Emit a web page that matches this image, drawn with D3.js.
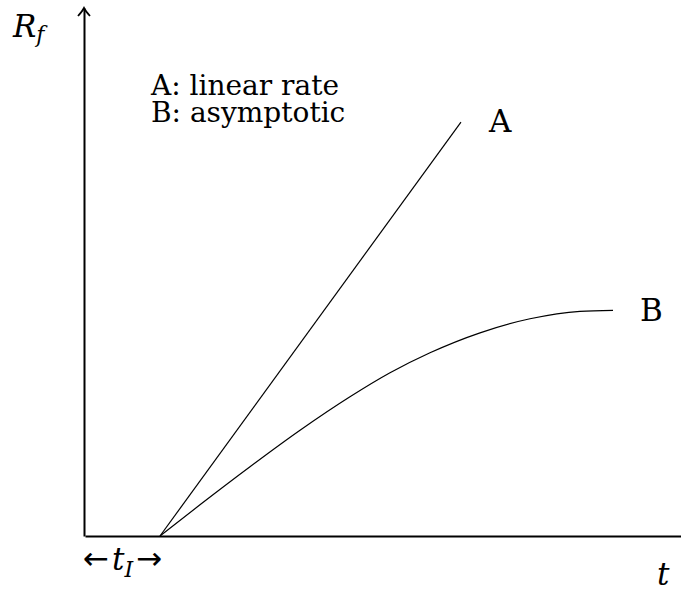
<!DOCTYPE html>
<html>
<head>
<meta charset="utf-8">
<script src="https://cdn.jsdelivr.net/npm/d3@7"></script>
<style>
  html, body { margin: 0; padding: 0; background: #fff; }
</style>
</head>
<body>
<div id="chart"></div>
<script>
// curve A: linear growth after the induction time
const lineA_t = [1.0, 5.013];
const lineA_R = [0, 7.84];

// curve B: levels off towards an asymptote
const lineB_t = [1.0, 1.533, 2.2, 2.867, 3.533, 4.067, 4.6, 5.267, 5.933, 6.6, 7.04];
const lineB_R = [0, 0.591, 1.311, 2.002, 2.636, 3.091, 3.470, 3.848, 4.114, 4.256, 4.275];

const legendLines = ["A: linear rate", "B: asymptotic"];
const curveNames = ["A", "B"];
const inductionTime = 1.0;

const width = 681;
const height = 591;
const serif = 'DejaVu Serif';

const xScale = d3.scaleLinear()
                 .domain([0, 8])
                 .range([85, 685]);

const yScale = d3.scaleLinear()
                 .domain([0, 10])
                 .range([536, 8]);

const svg = d3.select('#chart')
              .append('svg')
              .attr('width', width)
              .attr('height', height);

// axes without ticks, just the lines
const xAxis = d3.axisBottom(xScale).tickValues([]).tickSizeOuter(0);
const yAxis = d3.axisLeft(yScale).tickValues([]).tickSizeOuter(0);

svg.append('g')
   .attr('transform', `translate(0, ${yScale(0)})`)
   .call(xAxis)
   .call(g => g.select('.domain').attr('stroke', '#000').attr('stroke-width', 2));

svg.append('g')
   .attr('transform', `translate(${xScale(0) - 1}, 0)`)
   .call(yAxis)
   .call(g => g.select('.domain').attr('stroke', '#000').attr('stroke-width', 2));

// arrow head at the top of the y axis
const tipX = xScale(0) - 1, tipY = yScale(10);
svg.append('path')
   .attr('d', `M${tipX - 6},${tipY + 8} Q${tipX - 1.5},${tipY + 3} ${tipX},${tipY} Q${tipX + 1.5},${tipY + 3} ${tipX + 6},${tipY + 8}`)
   .attr('fill', 'none')
   .attr('stroke', '#000')
   .attr('stroke-width', 1.8);

const line = d3.line()
               .x(d => xScale(d[0]))
               .y(d => yScale(d[1]))
               .curve(d3.curveMonotoneX);

svg.append('path')
   .datum(d3.zip(lineA_t, lineA_R))
   .attr('d', line)
   .attr('fill', 'none')
   .attr('stroke', '#000')
   .attr('stroke-width', 1.2);

svg.append('path')
   .datum(d3.zip(lineB_t, lineB_R))
   .attr('d', line)
   .attr('fill', 'none')
   .attr('stroke', '#000')
   .attr('stroke-width', 1.2);

function addText(x, y, size, str) {
    return svg.append('text')
              .attr('x', x)
              .attr('y', y)
              .attr('font-size', size)
              .attr('font-family', serif)
              .attr('fill', '#000')
              .text(str);
}

// curve names next to the ends
addText(xScale(lineA_t[lineA_t.length - 1]) + 28, yScale(lineA_R[lineA_R.length - 1]) + 10, 31, curveNames[0]);
addText(xScale(lineB_t[lineB_t.length - 1]) + 27, yScale(lineB_R[lineB_R.length - 1]) + 11, 31, curveNames[1]);

// legend text
legendLines.forEach((d, i) => addText(151, 95 + i * 27, 28, d));

// axis labels
const rLabel = addText(13, 37, 31, null).attr('font-style', 'italic');
rLabel.append('tspan').text('R');
rLabel.append('tspan').attr('font-size', 22).attr('dy', 5).text('f');

addText(657, 585, 31, 't').attr('font-style', 'italic');

// induction time marker under the axis
const tiX = xScale(inductionTime);
addText(xScale(0) - 2, 569, 31, '←').attr('font-family', 'DejaVu Sans');

const tLabel = addText(tiX - 48, 570, 31, null).attr('font-style', 'italic');
tLabel.append('tspan').text('t');
tLabel.append('tspan').attr('font-size', 22).attr('dy', 7).text('I');

addText(tiX - 24, 569, 31, '→').attr('font-family', 'DejaVu Sans');
</script>
</body>
</html>
